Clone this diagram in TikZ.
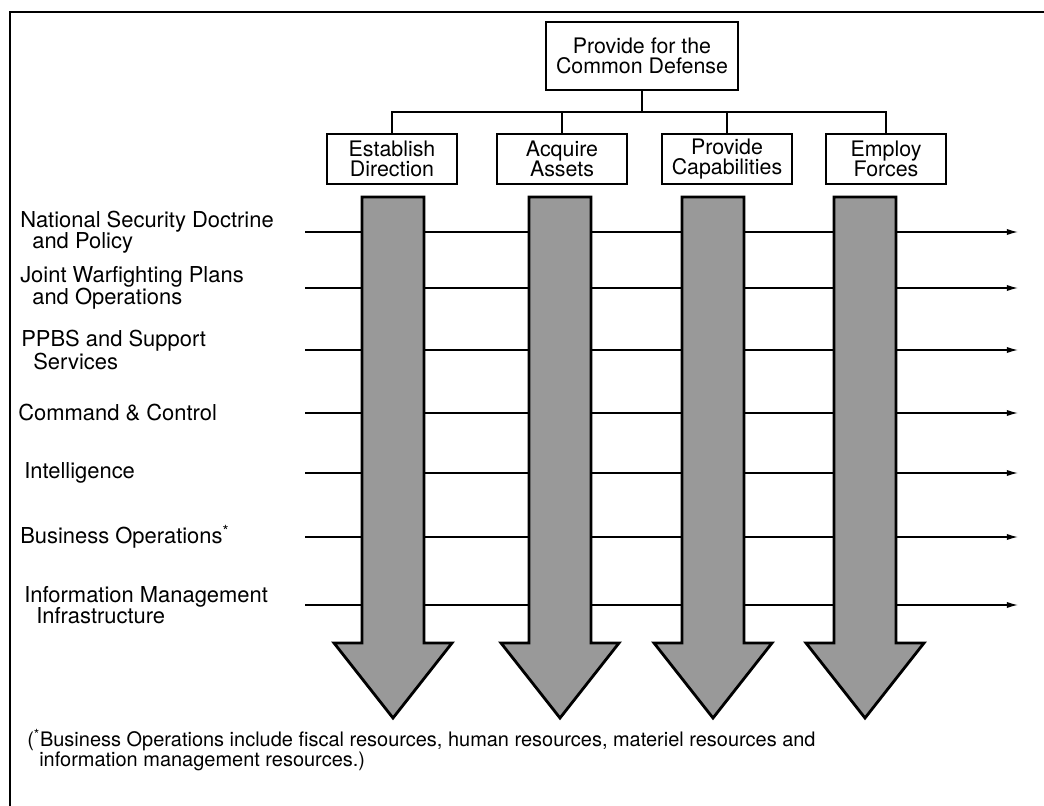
\documentclass[tikz,border=0pt]{standalone}
\usepackage{fontspec}
\setmainfont{TeX Gyre Heros}
\usepackage{tikz}
\usetikzlibrary{positioning,arrows.meta}

\tikzset{
	fnbox/.style={draw, line width=1pt, align=center, inner sep=0pt, minimum height=1.25cm, minimum width=3.25cm,
		font=\fontsize{15.2}{14.6}\selectfont},
	topbox/.style={fnbox, minimum height=1.7cm, minimum width=4.8cm},
	rowlabel/.style={anchor=west, align=left, inner sep=0pt, font=\fontsize{15.6}{15}\selectfont},
	flowline/.style={line width=1pt, -{Latex[length=8pt,width=4.5pt]}},
	treeline/.style={line width=0.8pt},
	bigarrow/.style={draw, line width=2pt, fill=black!40, line join=miter},
}
\newcommand{\ind}{\hspace*{0.55em}}

\begin{document}
\begin{tikzpicture}[x=0.025cm, y=-0.025cm]
	\useasboundingbox (0,0) rectangle (1044,806);
	% frame
	\draw [line width=1.3pt] (1044,12) -- (10,12) -- (10,806);

	% tree of functions
	\node [topbox] (CD) at (642,56) {Provide for the\\Common Defense};
	\node [fnbox] (ED) at (392,159) {Establish\\Direction};
	\node [fnbox] (AA) at (562,159) {Acquire\\Assets};
	\node [fnbox] (PC) at (727,159) {Provide\\Capabilities};
	\node [fnbox, minimum width=3.0cm] (EF) at (886,159) {Employ\\Forces};
	\coordinate (bus) at (642,112);
	\draw [treeline] (CD) -- (bus);
	\foreach \b in {ED,AA,PC,EF}
		\draw [treeline] (\b.north) |- (bus);

	% rows
	\foreach \y/\x/\txt [count=\i] in {
		232/20/{National Security Doctrine\\\ind and Policy},
		288/20/{Joint Warfighting Plans\\\ind and Operations},
		350/21/{PPBS and Support\\\ind Services},
		413/18/{Command \& Control},
		473/24/{Intelligence},
		537/20/{Business Operations\textsuperscript{*}},
		605/24/{Information Management\\\ind Infrastructure}} {
		\node [rowlabel] (L\i) at (\x,\y) {\txt};
		\coordinate (S\i) at (305,\y);
		\coordinate (E\i) at (1018,\y);
		\draw [flowline] (S\i) -- (E\i);
	}

	% big arrows
	\foreach \cx in {393,560,713,865}
		\path [bigarrow] ({\cx-31},197) -- ({\cx+31},197) -- ({\cx+31},643) -- ({\cx+59},643)
			-- (\cx,718) -- ({\cx-59},643) -- ({\cx-31},643) -- cycle;

	\node [anchor=north west, align=left, inner sep=0pt, font=\fontsize{14.2}{14.3}\selectfont] (note) at (27,729)
		{(\textsuperscript{*}Business Operations include fiscal resources, human resources, materiel resources and\\\hspace*{0.6em}information management resources.)};
\end{tikzpicture}
\end{document}
